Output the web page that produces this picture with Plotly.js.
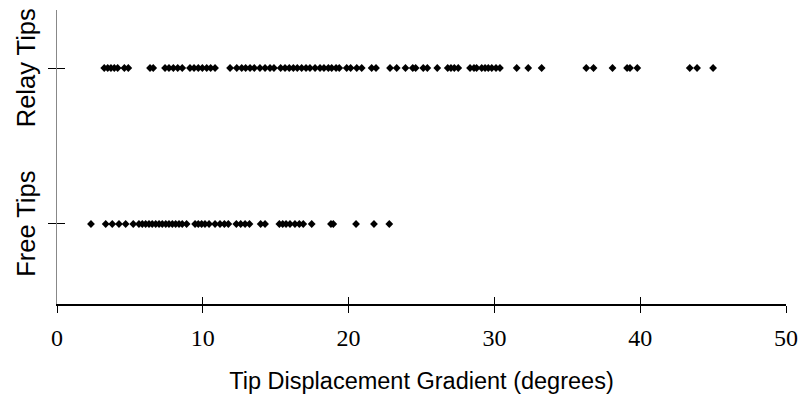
<!DOCTYPE html>
<html><head><meta charset="utf-8">
<script src="https://cdn.plot.ly/plotly-3.0.1.min.js"></script>
<style>html,body{margin:0;padding:0;background:#fff}#chart{width:798px;height:397px}</style>
</head><body><div id="chart"></div>
<script>
const categories = ['Free Tips', 'Relay Tips'];
const categoryPositions = [1, 2];
const relayTips = [3.24, 3.48, 3.70, 3.93, 4.16, 4.62, 4.89, 6.38, 6.60, 7.41, 7.68, 7.98, 8.28, 8.59, 9.12, 9.40, 9.69, 9.97, 10.27, 10.54, 10.84, 11.87, 12.33, 12.67, 12.94, 13.24, 13.53, 13.92, 14.27, 14.61, 14.88, 15.34, 15.64, 15.93, 16.21, 16.48, 16.78, 17.08, 17.35, 17.70, 18.04, 18.31, 18.61, 18.84, 19.14, 19.36, 19.87, 20.14, 20.56, 20.90, 21.58, 21.88, 22.84, 23.30, 23.9, 24.4, 24.6, 25.12, 25.40, 26.08, 26.80, 27.02, 27.25, 27.52, 28.33, 28.60, 28.78, 29.13, 29.36, 29.58, 29.82, 30.11, 30.38, 31.53, 32.32, 33.24, 36.3, 36.8, 38.1, 39.1, 39.3, 39.8, 43.4, 43.9, 45.0];
const freeTips = [2.33, 3.34, 3.79, 4.25, 4.71, 5.23, 5.62, 5.85, 6.08, 6.31, 6.53, 6.77, 7.0, 7.22, 7.46, 7.68, 7.91, 8.14, 8.37, 8.59, 8.89, 9.47, 9.69, 9.92, 10.15, 10.43, 10.84, 11.18, 11.48, 11.75, 12.3, 12.6, 12.9, 13.2, 13.97, 14.27, 15.25, 15.48, 15.71, 15.98, 16.32, 16.62, 16.89, 17.47, 18.79, 18.95, 20.51, 21.74, 22.79];
const xTickVals = [0, 10, 20, 30, 40, 50];

const mk = {symbol: 'diamond', size: 6, color: '#000', line: {width: 0}};
const traces = [
  {x: freeTips, y: freeTips.map(() => categoryPositions[0]), type: 'scatter', mode: 'markers', marker: mk, name: categories[0], cliponaxis: false},
  {x: relayTips, y: relayTips.map(() => categoryPositions[1]), type: 'scatter', mode: 'markers', marker: mk, name: categories[1], cliponaxis: false}
];
const yr = [0.487, 2.372];
const layout = {
  width: 798, height: 397, showlegend: false,
  paper_bgcolor: '#fff', plot_bgcolor: '#fff',
  margin: {l: 57, r: 12, t: 10, b: 93},
  xaxis: {range: [0, 50], tickvals: xTickVals, showgrid: false, zeroline: false,
    showline: true, linecolor: '#000', linewidth: 1.5, ticks: 'outside', ticklen: 7, tickcolor: '#000', tickwidth: 1,
    tickfont: {family: 'Liberation Serif', size: 24, color: '#000'}, ticklabelstandoff: 5,
    title: {text: 'Tip Displacement Gradient (degrees)', font: {family: 'Liberation Sans', size: 23.5, color: '#000'}, standoff: 22}},
  xaxis2: {range: [0, 50], tickvals: xTickVals, overlaying: 'x', anchor: 'y', side: 'bottom', showgrid: false, zeroline: false,
    showline: false, ticks: 'inside', ticklen: 7, tickcolor: '#000', tickwidth: 1, showticklabels: false},
  yaxis: {range: yr, tickvals: categoryPositions, ticktext: categories.map(c => c + '\u00a0'), showgrid: false, zeroline: false,
    showline: true, linecolor: '#888', linewidth: 1.5, ticks: 'outside', ticklen: 8, tickcolor: '#000', tickwidth: 1,
    tickangle: -90, tickfont: {family: 'Liberation Sans', size: 25.5, color: '#000'}, ticklabelstandoff: 2, ticklabeloverflow: 'allow'},
  yaxis2: {range: yr, tickvals: categoryPositions, overlaying: 'y', anchor: 'x', side: 'left', showgrid: false, zeroline: false,
    showline: false, ticks: 'inside', ticklen: 8, tickcolor: '#000', tickwidth: 1, showticklabels: false}
};
traces.push({x: [null], y: [null], xaxis: 'x2', yaxis: 'y2', type: 'scatter', mode: 'markers', showlegend: false, hoverinfo: 'skip'});
Plotly.newPlot('chart', traces, layout, {displayModeBar: false, staticPlot: true});
</script></body></html>
